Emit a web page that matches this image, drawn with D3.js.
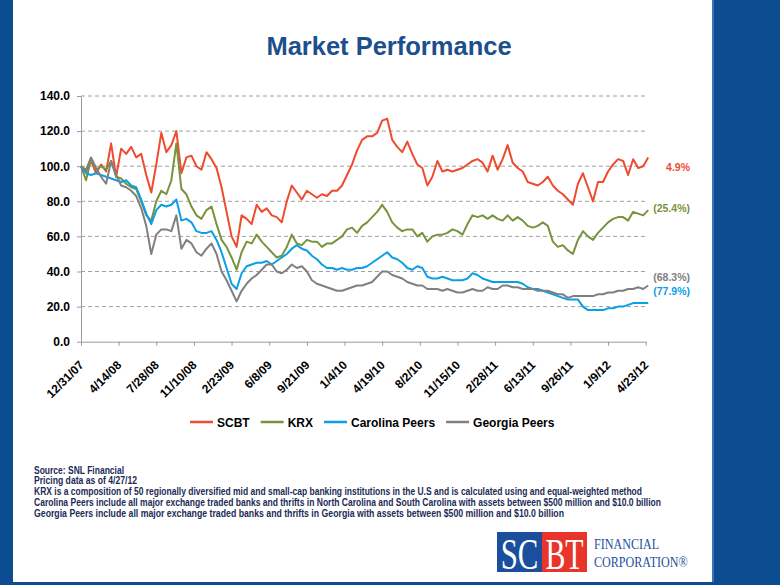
<!DOCTYPE html>
<html>
<head>
<meta charset="utf-8">
<script src="https://cdn.jsdelivr.net/npm/d3@7"></script>
<style>
  body { margin: 0; background: #fff; }
  svg { display: block; }
  text { font-family: "Liberation Sans", Arial, sans-serif; }
  text.serif { font-family: "Liberation Serif", "DejaVu Serif", serif; }
</style>
</head>
<body>
<svg id="chart" width="780" height="585"></svg>
<script>
// ---------- DATA ----------
const startDate = "12/31/07";       // first observation (bi-weekly observations)
const tickLabels = ["12/31/07","4/14/08","7/28/08","11/10/08","2/23/09","6/8/09","9/21/09","1/4/10",
                    "4/19/10","8/2/10","11/15/10","2/28/11","6/13/11","9/26/11","1/9/12","4/23/12"];
const yTicks = [0, 20, 40, 60, 80, 100, 120, 140];
const seriesNames = ["SCBT", "KRX", "Carolina Peers", "Georgia Peers"];
const endLabels = ["4.9%", "(25.4%)", "(77.9%)", "(68.3%)"];

const scbt = [100,97,103,96,101,97,113,94,110,107,
  111,105,107,95,85,101,119,108,112,120,
  96,105,106,100,98,108,104,99,88,74,
  60,54,72,70,67,78,74,76,72,71,
  68,80,89,85,81,86,84,82,84,83,
  86,86,89,95,101,109,115,117,117,119,
  126,127,115,111,108,114,107,101,99,89,
  94,103,97,98,97,98,99,101,103,104,
  102,97,106,98,104,112,102,99,97,91,
  90,89,91,94,89,86,84,81,78,90,
  96,88,80,91,91,97,101,104,103,95,
  104,99,100,105];
const krx = [100,92,104,98,100,98,103,94,93,90,
  88,87,80,72,69,80,86,84,92,113,
  87,84,77,72,70,75,77,67,58,54,
  48,41,51,57,56,61,57,54,51,48,
  49,54,61,56,55,58,57,57,54,56,
  56,58,60,64,65,62,66,68,71,74,
  78,74,68,65,63,64,64,60,62,57,
  60,61,61,62,64,63,61,67,72,71,
  72,70,72,70,69,72,69,71,69,66,
  65,66,68,66,57,54,55,52,50,58,
  63,60,58,62,65,68,70,71,71,69,
  74,73,72,75];
const carolina = [100,96,95,96,95,94,93,92,91,92,
  89,88,81,73,67,75,78,77,78,81,
  69,70,68,63,62,62,63,58,51,42,
  33,30,39,43,44,45,45,46,44,46,
  48,50,53,55,53,52,49,47,44,42,
  42,41,42,41,41,42,42,43,45,47,
  49,51,48,47,45,42,41,43,42,37,
  36,36,37,36,35,35,35,36,39,38,
  36,35,34,34,34,34,34,34,33,31,
  30,30,29,28,27,26,25,24,24,24,
  20,18,18,18,18,19,19,20,20,21,
  22,22,22,22];
const georgia = [100,98,105,99,94,90,103,95,89,88,
  86,83,76,66,50,61,64,64,63,72,
  53,58,56,51,49,53,56,50,40,35,
  29,23,29,33,36,38,41,44,44,40,
  39,41,44,42,43,40,35,33,32,31,
  30,29,29,30,31,32,32,33,34,37,
  40,40,38,37,36,34,33,32,32,30,
  30,30,29,30,29,28,28,29,30,29,
  29,31,30,30,32,32,31,31,30,30,
  30,29,29,29,28,27,27,25,26,26,
  26,26,26,27,27,28,28,29,29,30,
  30,31,30,32];

const footnotes = [
  "Source: SNL Financial",
  "Pricing data as of 4/27/12",
  "KRX is a composition of 50 regionally diversified mid and small-cap banking institutions in the U.S and is calculated using and equal-weighted method",
  "Carolina Peers include all major exchange traded banks and thrifts in North Carolina and South Carolina with assets between $500 million and $10.0 billion",
  "Georgia Peers include all major exchange traded banks and thrifts in Georgia with assets between $500 million and $10.0 billion"
];

// ---------- STYLE / LAYOUT ----------
const colors = ["#ef4b2f", "#77933c", "#0a9fe6", "#808080"];
const labelYValue = [99.5, 76.2, 28.9, 36.9];
const footWidths = [90, 103, 608, 627, 530];

const svg = d3.select("#chart");
const W = 780, H = 585;

// frame
svg.append("rect").attr("x", 0).attr("y", 0).attr("width", W).attr("height", H).attr("fill", "#ffffff");
svg.append("rect").attr("x", 0).attr("y", 0).attr("width", 13).attr("height", H).attr("fill", "#0c4d92");
svg.append("rect").attr("x", 712).attr("y", 0).attr("width", 68).attr("height", H).attr("fill", "#0c4d92");
svg.append("rect").attr("x", 712).attr("y", 0).attr("width", 2).attr("height", H).attr("fill", "#3b74b0");
svg.append("rect").attr("x", 0).attr("y", 582).attr("width", W).attr("height", 3).attr("fill", "#0c4d92");

// title
svg.append("text").attr("x", 389).attr("y", 55).attr("text-anchor", "middle")
  .attr("font-size", "25.5px").attr("font-weight", "bold").attr("fill", "#1d4f8c")
  .text("Market Performance");

// scales
const parse = d3.timeParse("%m/%d/%y");
const t0 = parse(startDate);
const tickDates = tickLabels.map(parse);
const x = d3.scaleTime().domain([tickDates[0], tickDates[tickDates.length - 1]]).range([81, 645.7]);
const y = d3.scaleLinear().domain([0, 140]).range([341.7, 96]);

const allSeries = [scbt, krx, carolina, georgia].map((vals, k) => ({
  name: seriesNames[k],
  color: colors[k],
  points: vals.map((v, i) => ({ date: d3.timeDay.offset(t0, 14 * i), v }))
}));

// gridlines
svg.append("g").selectAll("line").data(yTicks.filter(d => d > 0)).join("line")
  .attr("x1", 81).attr("x2", 646).attr("y1", d => y(d)).attr("y2", d => y(d))
  .attr("stroke", "#a0a0a0").attr("stroke-width", 1).attr("stroke-dasharray", "4,3");

// y axis
const yAxis = svg.append("g").attr("transform", "translate(81,0)")
  .call(d3.axisLeft(y).tickValues(yTicks).tickFormat(d3.format(".1f")).tickSize(4).tickSizeOuter(0));
yAxis.select(".domain").attr("stroke", "#9a9a9a");
yAxis.selectAll(".tick line").attr("stroke", "#9a9a9a");
yAxis.selectAll(".tick text").attr("font-size", "12px").attr("font-weight", "bold")
  .attr("fill", "#000").attr("font-family", null).attr("x", -11);

// x axis
const xAxis = svg.append("g").attr("transform", "translate(0,341.7)")
  .call(d3.axisBottom(x).tickValues(tickDates).tickFormat((d, i) => tickLabels[i]).tickSize(4).tickSizeOuter(0));
xAxis.select(".domain").attr("stroke", "#9a9a9a");
xAxis.selectAll(".tick line").attr("stroke", "#9a9a9a");
xAxis.selectAll(".tick text")
  .attr("font-size", "12px").attr("font-weight", "bold").attr("fill", "#000")
  .attr("font-family", null)
  .attr("text-anchor", "end").attr("dy", null).attr("y", 0)
  .attr("transform", "translate(3,24) rotate(-45)");

// lines
const line = d3.line().x(d => x(d.date)).y(d => y(d.v));
svg.append("g").selectAll("path").data(allSeries).join("path")
  .attr("d", d => line(d.points)).attr("fill", "none")
  .attr("stroke", d => d.color).attr("stroke-width", 2).attr("stroke-linejoin", "round");

// end labels
svg.append("g").selectAll("text").data(endLabels).join("text")
  .attr("x", 690).attr("y", (d, i) => y(labelYValue[i]) + 4)
  .attr("text-anchor", "end").attr("font-size", "10.5px").attr("font-weight", "bold")
  .attr("fill", (d, i) => colors[i]).text(d => d);

// legend
const lg = svg.append("g");
let lx = 190;
seriesNames.forEach((n, i) => {
  lg.append("line").attr("x1", lx).attr("x2", lx + 23).attr("y1", 422).attr("y2", 422)
    .attr("stroke", colors[i]).attr("stroke-width", 2.5);
  const t = lg.append("text").attr("x", lx + 27).attr("y", 426.5).attr("font-size", "12px")
    .attr("font-weight", "bold").attr("fill", "#000").text(n);
  lx += 27 + t.node().getComputedTextLength() + 11;
});

// footnotes
svg.append("g").selectAll("text").data(footnotes).join("text")
  .attr("x", 34).attr("y", (d, i) => 473.5 + i * 10.8)
  .attr("font-size", "10px").attr("font-weight", "bold").attr("fill", "#1b2b55")
  .attr("textLength", (d, i) => footWidths[i]).attr("lengthAdjust", "spacingAndGlyphs")
  .text(d => d);

// logo
const logo = svg.append("g");
logo.append("rect").attr("x", 497).attr("y", 532).attr("width", 45).attr("height", 40).attr("fill", "#1b4f9e");
logo.append("rect").attr("x", 542).attr("y", 532).attr("width", 45).attr("height", 40).attr("fill", "#e8342b");
logo.append("text").attr("class", "serif").attr("text-anchor", "middle")
  .attr("transform", "translate(519.5,569) scale(0.7,1)")
  .attr("font-size", "44px").attr("fill", "#fff").text("SC");
logo.append("text").attr("class", "serif").attr("text-anchor", "middle")
  .attr("transform", "translate(564.5,569) scale(0.68,1)")
  .attr("font-size", "44px").attr("fill", "#fff").text("BT");
logo.append("text").attr("class", "serif").attr("transform", "translate(594,549) scale(0.78,1)")
  .attr("font-size", "15.5px").attr("fill", "#1b4f9e").text("FINANCIAL");
logo.append("text").attr("class", "serif").attr("transform", "translate(594,566.5) scale(0.78,1)")
  .attr("font-size", "15.5px").attr("fill", "#1b4f9e").text("CORPORATION®");
</script>
</body>
</html>
